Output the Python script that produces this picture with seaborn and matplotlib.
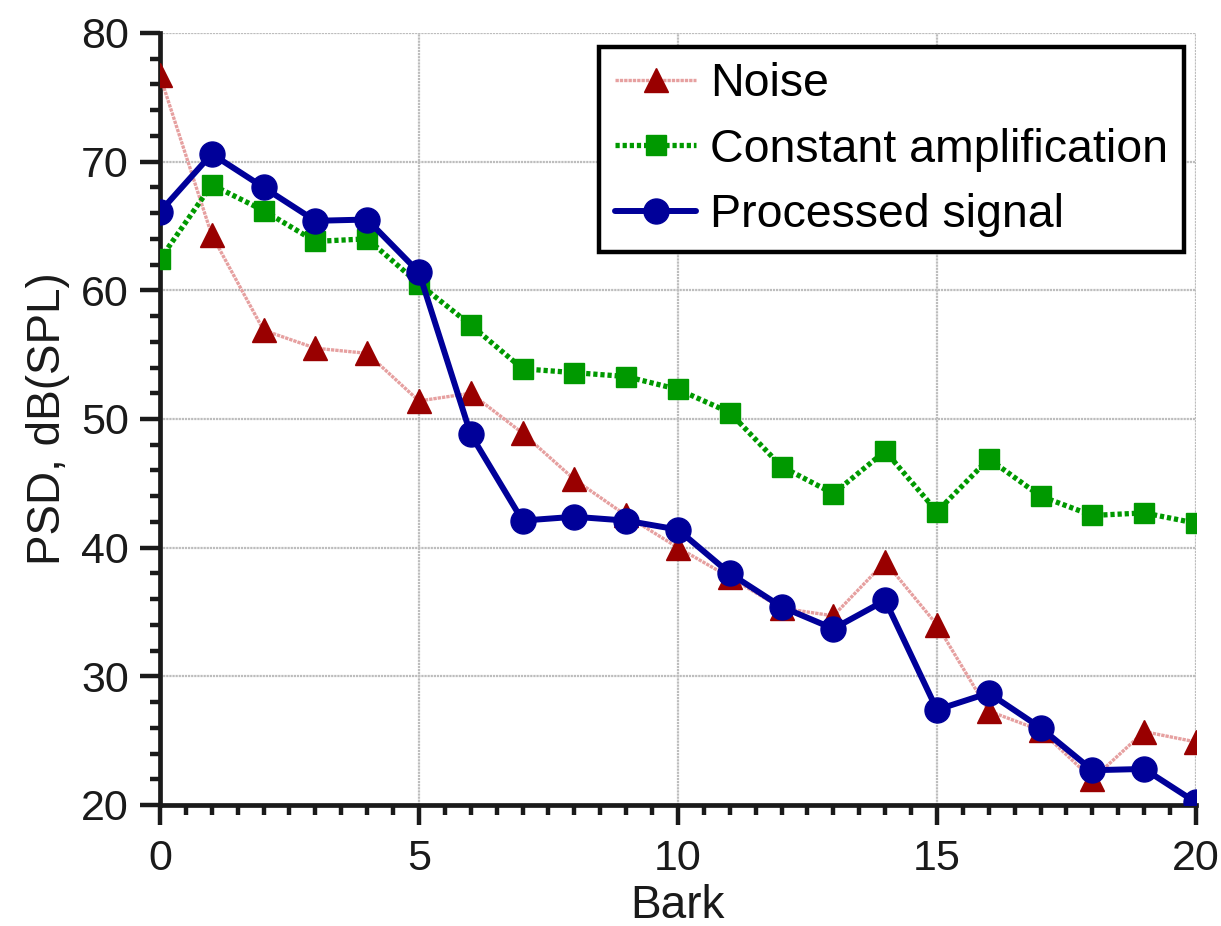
import numpy as np
import pandas as pd
import matplotlib
matplotlib.use("Agg")
import matplotlib.pyplot as plt
from matplotlib.ticker import MultipleLocator
import seaborn as sns

bark = list(range(0, 21))
noise = [76.7, 64.3, 56.9, 55.5, 55.1, 51.4, 52.0, 48.9, 45.3, 42.5, 40.0,
         37.7, 35.3, 34.7, 38.9, 34.0, 27.3, 25.8, 22.0, 25.7, 24.9]
const_amp = [62.4, 68.2, 66.2, 63.8, 64.0, 60.5, 57.3, 53.9, 53.6, 53.3, 52.3,
             50.5, 46.3, 44.2, 47.5, 42.8, 46.9, 44.0, 42.5, 42.7, 41.9]
processed = [66.1, 70.6, 68.0, 65.4, 65.5, 61.4, 48.8, 42.1, 42.4, 42.1, 41.4,
             38.0, 35.4, 33.7, 35.9, 27.4, 28.7, 26.0, 22.7, 22.8, 20.2]
labels = ["Noise", "Constant amplification", "Processed signal"]

sns.set_theme(style="white")
plt.rcParams['font.family'] = ['Liberation Sans', 'DejaVu Sans']

fig = plt.figure(figsize=(12.21, 9.26), dpi=100)
ax = fig.add_axes([0.131, 0.1307, 0.8485, 0.8337])

df = pd.DataFrame({"Bark": bark, "noise": noise, "const": const_amp, "proc": processed})

sns.lineplot(data=df, x="Bark", y="noise", ax=ax, color="#e6a0a0", lw=2.4,
             linestyle=(0, (1, 0.3)), marker="^", markersize=17,
             markerfacecolor="#990000", markeredgecolor="#990000",
             markeredgewidth=1, label=labels[0], zorder=3)
sns.lineplot(data=df, x="Bark", y="const", ax=ax, color="#009900", lw=3.8,
             linestyle=(0, (0.8, 0.55)), marker="s", markersize=14,
             markerfacecolor="#009900", markeredgecolor="#009900",
             markeredgewidth=1, label=labels[1], zorder=4)
sns.lineplot(data=df, x="Bark", y="proc", ax=ax, color="#000099", lw=4.3,
             marker="o", markersize=18, markerfacecolor="#000099",
             markeredgecolor="#000099", markeredgewidth=1,
             label=labels[2], zorder=5)

ax.set_xlim(0, 20)
ax.set_ylim(20, 80)
ax.xaxis.set_major_locator(MultipleLocator(5))
ax.xaxis.set_minor_locator(MultipleLocator(0.5))
ax.yaxis.set_major_locator(MultipleLocator(10))
ax.yaxis.set_minor_locator(MultipleLocator(2))

ax.grid(True, which="major", color="#bdbdbd", linestyle=(0, (1, 0.4)), lw=1.6)
ax.set_axisbelow(True)

for s in ["top", "right"]:
    ax.spines[s].set_visible(False)
for s in ["left", "bottom"]:
    ax.spines[s].set_linewidth(3.4)
    ax.spines[s].set_color("#1a1a1a")

ax.tick_params(which="major", direction="out", length=14.4, width=3.2,
               color="#1a1a1a", labelsize=31, labelcolor="#1a1a1a",
               left=True, bottom=True)
ax.tick_params(axis="y", which="major", pad=8)
ax.tick_params(axis="x", which="major", pad=10)
ax.tick_params(which="minor", direction="out", length=7.2, width=3.2,
               color="#1a1a1a", left=True, bottom=True)

ax.set_xlabel("Bark", fontsize=33, labelpad=4, color="#1a1a1a")
ax.set_ylabel("PSD, dB(SPL)", fontsize=33, labelpad=8, color="#1a1a1a")

leg = ax.legend(loc="upper right", bbox_to_anchor=(0.988, 0.982),
                fontsize=33.5, frameon=True, fancybox=False, edgecolor="black",
                framealpha=1, handlelength=1.75, handletextpad=0.3,
                borderpad=0.33, labelspacing=0.46, borderaxespad=0)
leg.get_frame().set_linewidth(3.2)
for t in leg.get_texts():
    t.set_color("black")

fig.savefig("out.png", dpi=100)
